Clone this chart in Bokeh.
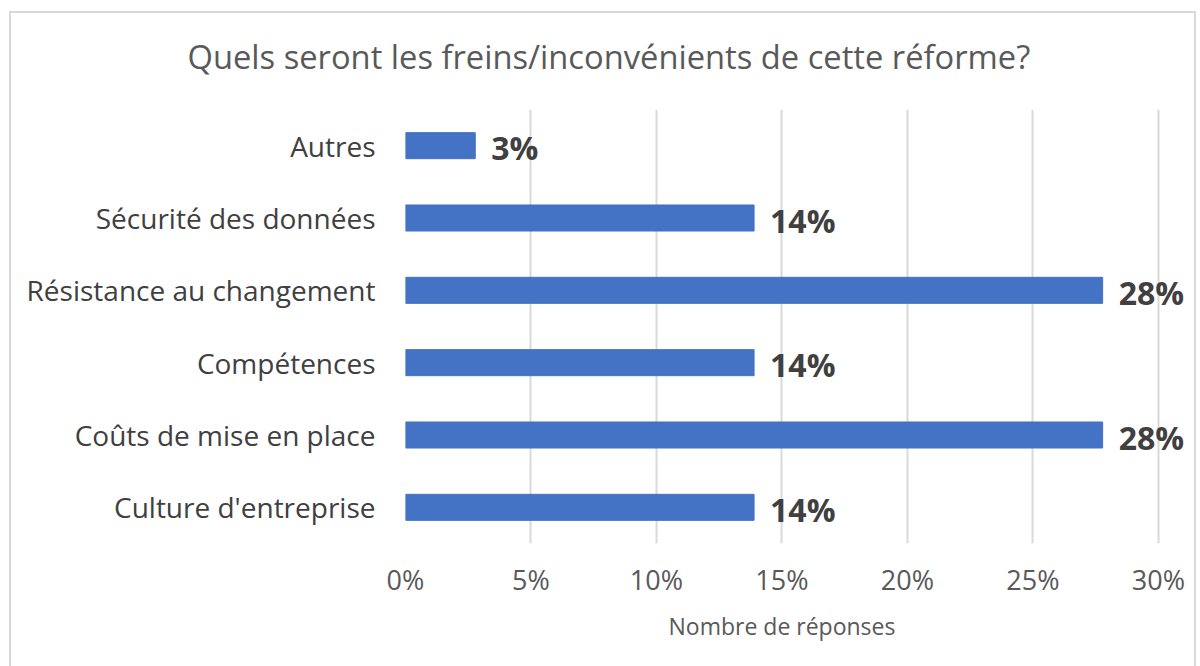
from bokeh.plotting import figure
from bokeh.models import ColumnDataSource, NumeralTickFormatter, FixedTicker, Title, LabelSet
from bokeh.core.properties import value
from bokeh.embed import file_html
from bokeh.resources import INLINE

categories = ["Culture d'entreprise", "Coûts de mise en place", "Compétences",
              "Résistance au changement", "Sécurité des données", "Autres"]
values = [0.1389, 0.2778, 0.1389, 0.2778, 0.1389, 0.0278]
labels = ["14%", "28%", "14%", "28%", "14%", "3%"]
ticks = [0, 0.05, 0.10, 0.15, 0.20, 0.25, 0.30]

FONT = "Open Sans"
src = ColumnDataSource(dict(cat=categories, val=values, lab=labels))

# frame extends to the right edge so value labels are not clipped
p = figure(width=1187, height=655, y_range=categories, x_range=(0, 0.316),
           output_backend="svg", toolbar_location=None,
           min_border_left=394, min_border_right=0, min_border_top=96,
           min_border_bottom=125)
p.styles = {"border": "2px solid #d9d9d9", "border-bottom": "none",
            "box-sizing": "border-box", "margin-left": "9px", "margin-top": "11px"}
p.outline_line_color = None
p.background_fill_color = "white"
p.border_fill_color = "white"

p.hbar(y="cat", right="val", left=0, height=0.36, source=src, color="#4472c4")
lbl = LabelSet(x="val", y="cat", text="lab", source=src, x_offset=16, y_offset=-2,
               text_baseline="middle", text_align="left", text_font=value(FONT),
               text_font_size="32px", text_font_style="bold", text_color="#404040")
p.add_layout(lbl)

p.xaxis.ticker = FixedTicker(ticks=ticks)
p.xaxis.formatter = NumeralTickFormatter(format="0%")
p.xaxis.axis_line_color = None
p.xaxis.major_tick_line_color = None
p.xaxis.minor_tick_line_color = None
p.xaxis.major_label_text_font = FONT
p.xaxis.major_label_text_font_size = "27px"
p.xaxis.major_label_text_color = "#595959"
p.xaxis.major_label_standoff = 11

p.yaxis.axis_line_color = None
p.yaxis.major_tick_line_color = None
p.yaxis.minor_tick_line_color = None
p.yaxis.major_label_text_font = FONT
p.yaxis.major_label_text_font_size = "28px"
p.yaxis.major_label_text_color = "#404040"
p.yaxis.major_label_standoff = 24

p.ygrid.grid_line_color = None
p.xgrid.grid_line_color = "#d9d9d9"
p.xgrid.grid_line_width = 2

# spacer between frame and title
spacer = Title(text=" ", text_font=FONT, text_font_size="10px", standoff=15)
p.add_layout(spacer, "above")
t = Title(text="Quels seront les freins/inconvénients de cette réforme?",
          text_font=FONT, text_font_size="32.7px", text_font_style="normal",
          text_color="#595959", align="left", offset=-218, standoff=0)
p.add_layout(t, "above")

xt = Title(text="Nombre de réponses", text_font=FONT, text_font_size="23px",
           text_font_style="normal", text_color="#595959", align="left",
           offset=263, standoff=14)
p.add_layout(xt, "below")

open("out.html", "w").write(file_html(p, INLINE))
